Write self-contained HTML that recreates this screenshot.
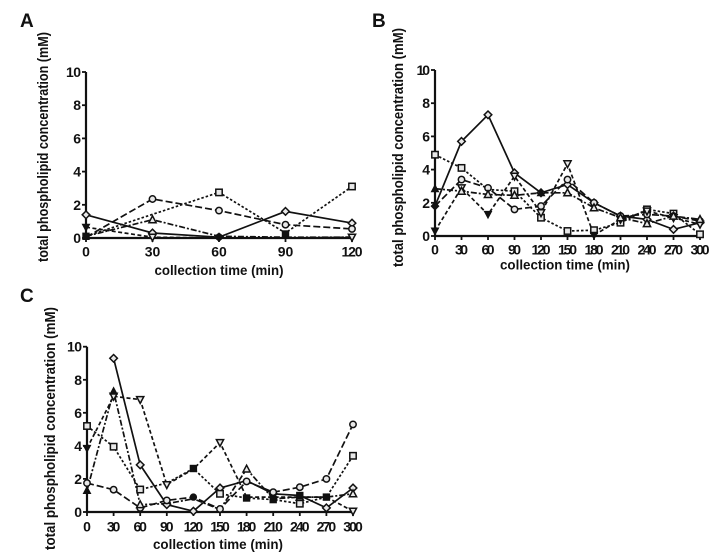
<!DOCTYPE html>
<html><head><meta charset="utf-8"><style>
html,body{margin:0;padding:0;background:#fff;}
svg{display:block;}
text{font-family:"Liberation Sans",Arial,sans-serif;font-weight:bold;fill:#111;}
.ax{stroke:#111;stroke-width:2.2;fill:none;}
.tk{stroke:#111;stroke-width:1.8;}
.s{fill:none;stroke:#111;stroke-width:1.7;}
.mk{fill:#e8e8e8;stroke:#111;stroke-width:1.5;}
.mf{fill:#111;stroke:#111;stroke-width:1;}
.yt{font-size:14px;text-anchor:end;}
.xt{font-size:14px;text-anchor:middle;}
.ttl{font-size:13.5px;text-anchor:middle;}
.yl{font-size:15px;text-anchor:middle;}
.lt{font-size:19px;}
</style></head><body>
<svg width="720" height="560" viewBox="0 0 720 560" xmlns="http://www.w3.org/2000/svg">
<defs>
<path id="dm" d="M0,-3.8 L3.8,0 L0,3.8 L-3.8,0Z"/>
<circle id="ci" r="3.2"/>
<rect id="sq" x="-3.2" y="-3.2" width="6.4" height="6.4"/>
<path id="tu" d="M0,-3.8 L3.6,3 L-3.6,3Z"/>
<path id="td" d="M0,3.8 L3.6,-3 L-3.6,-3Z"/>
</defs>

<!-- ================= PANEL A ================= -->
<text class="lt" x="20" y="27">A</text>
<text class="yl" transform="translate(48,147) rotate(-90)" textLength="230" lengthAdjust="spacingAndGlyphs">total phospholipid concentration (mM)</text>
<path class="ax" d="M86,72 V238 H352"/>
<g class="tk">
<line x1="82" y1="238" x2="86" y2="238"/><line x1="82" y1="204.8" x2="86" y2="204.8"/><line x1="82" y1="171.6" x2="86" y2="171.6"/><line x1="82" y1="138.4" x2="86" y2="138.4"/><line x1="82" y1="105.2" x2="86" y2="105.2"/><line x1="82" y1="72" x2="86" y2="72"/>
<line x1="86" y1="238" x2="86" y2="242"/><line x1="152.5" y1="238" x2="152.5" y2="242"/><line x1="219" y1="238" x2="219" y2="242"/><line x1="285.5" y1="238" x2="285.5" y2="242"/><line x1="352" y1="238" x2="352" y2="242"/>
</g>
<text class="yt" x="81" y="243">0</text><text class="yt" x="81" y="209.8">2</text><text class="yt" x="81" y="176.6">4</text><text class="yt" x="81" y="143.4">6</text><text class="yt" x="81" y="110.2">8</text><text class="yt" x="81" y="77" textLength="15">10</text>
<text class="xt" x="86" y="256.7">0</text><text class="xt" x="152.5" y="256.7">30</text><text class="xt" x="219" y="256.7">60</text><text class="xt" x="285.5" y="256.7">90</text><text class="xt" x="352" y="256.7" textLength="21">120</text>
<text class="ttl" x="219" y="275" textLength="129" lengthAdjust="spacingAndGlyphs">collection time (min)</text>

<polyline class="s" points="86,214.8 152.5,233 219,237.2 285.5,211.4 352,223.1"/>
<polyline class="s" stroke-dasharray="7,3" points="86,237.2 152.5,199 219,210.6 285.5,224.7 352,228.9"/>
<polyline class="s" stroke-dasharray="2.5,2" points="86,236.3 219,192.4 285.5,233 352,186.5"/>
<polyline class="s" stroke-dasharray="6,2,2,2" points="86,236.3 152.5,219.7 219,236.3 285.5,237.2 352,237.2"/>
<polyline class="s" stroke-dasharray="4,2.5" points="86,227.2 152.5,237.2 219,238 285.5,238 352,237.2"/>
<g class="mk">
<use href="#dm" x="86" y="214.8"/><use href="#dm" x="152.5" y="233"/><use href="#dm" x="219" y="237.2"/><use href="#dm" x="285.5" y="211.4"/><use href="#dm" x="352" y="223.1"/>
<use href="#ci" x="152.5" y="199"/><use href="#ci" x="219" y="210.6"/><use href="#ci" x="285.5" y="224.7"/><use href="#ci" x="352" y="228.9"/>
<use href="#sq" x="219" y="192.4"/><use href="#sq" x="352" y="186.5"/>
<use href="#tu" x="152.5" y="219.7"/>
<use href="#td" x="352" y="237.2"/><use href="#td" x="152.5" y="237.2"/>
</g>
<g class="mf">
<use href="#td" x="86" y="227.2"/><use href="#sq" x="86" y="236.3"/><use href="#sq" x="285.5" y="234"/><use href="#ci" x="219" y="237"/>
</g>

<!-- ================= PANEL B ================= -->
<text class="lt" x="372" y="27">B</text>
<text class="yl" transform="translate(403,147.5) rotate(-90)" textLength="239" lengthAdjust="spacingAndGlyphs">total phospholipid concentration (mM)</text>
<path class="ax" d="M435,70 V236 H700"/>
<g class="tk">
<line x1="431" y1="236" x2="435" y2="236"/><line x1="431" y1="202.8" x2="435" y2="202.8"/><line x1="431" y1="169.6" x2="435" y2="169.6"/><line x1="431" y1="136.4" x2="435" y2="136.4"/><line x1="431" y1="103.2" x2="435" y2="103.2"/><line x1="431" y1="70" x2="435" y2="70"/>
<line x1="435" y1="236" x2="435" y2="240"/><line x1="461.5" y1="236" x2="461.5" y2="240"/><line x1="488" y1="236" x2="488" y2="240"/><line x1="514.5" y1="236" x2="514.5" y2="240"/><line x1="541" y1="236" x2="541" y2="240"/><line x1="567.5" y1="236" x2="567.5" y2="240"/><line x1="594" y1="236" x2="594" y2="240"/><line x1="620.5" y1="236" x2="620.5" y2="240"/><line x1="647" y1="236" x2="647" y2="240"/><line x1="673.5" y1="236" x2="673.5" y2="240"/><line x1="700" y1="236" x2="700" y2="240"/>
</g>
<text class="yt" x="430" y="241">0</text><text class="yt" x="430" y="207.8">2</text><text class="yt" x="430" y="174.6">4</text><text class="yt" x="430" y="141.4">6</text><text class="yt" x="430" y="108.2">8</text><text class="yt" x="430" y="75" textLength="13.5">10</text>
<text class="xt" x="435" y="254.5">0</text><text class="xt" x="461.5" y="254.5" textLength="13">30</text><text class="xt" x="488" y="254.5" textLength="13">60</text><text class="xt" x="514.5" y="254.5" textLength="13">90</text><text class="xt" x="541" y="254.5" textLength="19">120</text><text class="xt" x="567.5" y="254.5" textLength="19">150</text><text class="xt" x="594" y="254.5" textLength="19">180</text><text class="xt" x="620.5" y="254.5" textLength="19">210</text><text class="xt" x="647" y="254.5" textLength="19">240</text><text class="xt" x="673.5" y="254.5" textLength="19">270</text><text class="xt" x="700" y="254.5" textLength="19">300</text>
<text class="ttl" x="565" y="269.5" textLength="130" lengthAdjust="spacingAndGlyphs">collection time (min)</text>

<polyline class="s" points="435,206.1 461.5,141.4 488,114.8 514.5,172.9 541,192.8 567.5,184.5 594,202.8 620.5,216.1 647,219.4 673.5,229.4 700,222.7"/>
<polyline class="s" stroke-dasharray="2.5,2" points="435,154.7 461.5,167.9 488,189.5 514.5,191.2 541,217.7 567.5,231 594,230.2 620.5,222.7 647,209.4 673.5,213.6 700,234.3"/>
<polyline class="s" stroke-dasharray="7,3" points="435,206.1 461.5,179.6 488,187.9 514.5,209.4 541,206.1 567.5,179.6 594,202.8 620.5,216.1 647,214.4 673.5,216.1 700,221.1"/>
<polyline class="s" stroke-dasharray="4,2.5" points="435,231 461.5,187.9 488,214.4 514.5,176.2 541,212.8 567.5,163.8 594,235.2 620.5,219.4 647,211.1 673.5,217.7 700,224.4"/>
<polyline class="s" stroke-dasharray="6,2,2,2" points="435,188.7 461.5,191.2 488,194.5 514.5,195.3 541,192.8 567.5,192.8 594,207.8 620.5,217.7 647,223.6 673.5,216.1 700,219.4"/>
<g class="mk">
<use href="#dm" x="461.5" y="141.4"/><use href="#dm" x="488" y="114.8"/><use href="#dm" x="514.5" y="172.9"/><use href="#dm" x="541" y="192.8"/><use href="#dm" x="567.5" y="184.5"/><use href="#dm" x="594" y="202.8"/><use href="#dm" x="620.5" y="216.1"/><use href="#dm" x="647" y="219.4"/><use href="#dm" x="673.5" y="229.4"/><use href="#dm" x="700" y="222.7"/>
<use href="#sq" x="435" y="154.7"/><use href="#sq" x="461.5" y="167.9"/><use href="#sq" x="514.5" y="191.2"/><use href="#sq" x="541" y="217.7"/><use href="#sq" x="567.5" y="231"/><use href="#sq" x="594" y="230.2"/><use href="#sq" x="620.5" y="222.7"/><use href="#sq" x="647" y="209.4"/><use href="#sq" x="673.5" y="213.6"/><use href="#sq" x="700" y="234.3"/>
<use href="#ci" x="461.5" y="179.6"/><use href="#ci" x="488" y="187.9"/><use href="#ci" x="514.5" y="209.4"/><use href="#ci" x="541" y="206.1"/><use href="#ci" x="567.5" y="179.6"/><use href="#ci" x="594" y="202.8"/><use href="#ci" x="620.5" y="216.1"/><use href="#ci" x="647" y="214.4"/><use href="#ci" x="673.5" y="216.1"/><use href="#ci" x="700" y="221.1"/>
<use href="#td" x="461.5" y="187.9"/><use href="#td" x="514.5" y="176.2"/><use href="#td" x="541" y="212.8"/><use href="#td" x="567.5" y="163.8"/><use href="#td" x="620.5" y="219.4"/><use href="#td" x="647" y="211.1"/><use href="#td" x="673.5" y="217.7"/><use href="#td" x="700" y="224.4"/>
<use href="#tu" x="461.5" y="191.2"/><use href="#tu" x="488" y="194.5"/><use href="#tu" x="514.5" y="195.3"/><use href="#tu" x="567.5" y="192.8"/><use href="#tu" x="594" y="207.8"/><use href="#tu" x="620.5" y="217.7"/><use href="#tu" x="647" y="223.6"/><use href="#tu" x="673.5" y="216.1"/><use href="#tu" x="700" y="219.4"/>
</g>
<g class="mf">
<use href="#dm" x="435" y="206.1"/><use href="#tu" x="435" y="188.7"/><use href="#td" x="435" y="231"/><use href="#td" x="488" y="214.4"/><use href="#td" x="594" y="235.2"/><use href="#tu" x="541" y="192.8"/>
</g>

<!-- ================= PANEL C ================= -->
<text class="lt" x="20" y="302">C</text>
<text class="yl" transform="translate(55,428.5) rotate(-90)" textLength="243" lengthAdjust="spacingAndGlyphs">total phospholipid concentration (mM)</text>
<path class="ax" d="M87,346.7 V512 H353"/>
<g class="tk">
<line x1="83" y1="512" x2="87" y2="512"/><line x1="83" y1="478.9" x2="87" y2="478.9"/><line x1="83" y1="445.9" x2="87" y2="445.9"/><line x1="83" y1="412.8" x2="87" y2="412.8"/><line x1="83" y1="379.8" x2="87" y2="379.8"/><line x1="83" y1="346.7" x2="87" y2="346.7"/>
<line x1="87" y1="512" x2="87" y2="516"/><line x1="113.6" y1="512" x2="113.6" y2="516"/><line x1="140.2" y1="512" x2="140.2" y2="516"/><line x1="166.8" y1="512" x2="166.8" y2="516"/><line x1="193.4" y1="512" x2="193.4" y2="516"/><line x1="220" y1="512" x2="220" y2="516"/><line x1="246.6" y1="512" x2="246.6" y2="516"/><line x1="273.2" y1="512" x2="273.2" y2="516"/><line x1="299.8" y1="512" x2="299.8" y2="516"/><line x1="326.4" y1="512" x2="326.4" y2="516"/><line x1="353" y1="512" x2="353" y2="516"/>
</g>
<text class="yt" x="82" y="517">0</text><text class="yt" x="82" y="483.9">2</text><text class="yt" x="82" y="450.9">4</text><text class="yt" x="82" y="417.8">6</text><text class="yt" x="82" y="384.8">8</text><text class="yt" x="82" y="351.7" textLength="15">10</text>
<text class="xt" x="87" y="531.5">0</text><text class="xt" x="113.6" y="531.5" textLength="13.5">30</text><text class="xt" x="140.2" y="531.5" textLength="13.5">60</text><text class="xt" x="166.8" y="531.5" textLength="13.5">90</text><text class="xt" x="193.4" y="531.5" textLength="19.5">120</text><text class="xt" x="220" y="531.5" textLength="19.5">150</text><text class="xt" x="246.6" y="531.5" textLength="19.5">180</text><text class="xt" x="273.2" y="531.5" textLength="19.5">210</text><text class="xt" x="299.8" y="531.5" textLength="19.5">240</text><text class="xt" x="326.4" y="531.5" textLength="19.5">270</text><text class="xt" x="353" y="531.5" textLength="19.5">300</text>
<text class="ttl" x="218" y="549" textLength="130" lengthAdjust="spacingAndGlyphs">collection time (min)</text>

<polyline class="s" points="113.6,358.3 140.2,464.9 166.8,504.6 193.4,511.2 220,488 246.6,480.6 273.2,493.8 299.8,495.5 326.4,507.9 353,488"/>
<polyline class="s" stroke-dasharray="2.5,2" points="87,426 113.6,446.7 140.2,489.5 166.8,483.1 193.4,468.5 220,493.8 246.6,498 273.2,499.6 299.8,503.7 326.4,497.1 353,455.8"/>
<polyline class="s" stroke-dasharray="7,3" points="87,483.1 113.6,489.7 140.2,507.9 166.8,500.4 193.4,497.1 220,509 246.6,481.4 273.2,492.2 299.8,487.2 326.4,478.9 353,424.4"/>
<polyline class="s" stroke-dasharray="4,2.5" points="87,448.4 113.6,396.3 140.2,399.6 166.8,484.7 193.4,469 220,442.6 246.6,497.1 273.2,497.1 299.8,497.1 326.4,497.1 353,511.2"/>
<polyline class="s" stroke-dasharray="6,2,2,2" points="87,490.5 113.6,391.3 140.2,504.6 166.8,503.7 193.4,498.8 220,509.5 246.6,469 273.2,498.8 299.8,497.1 326.4,497.1 353,493.8"/>
<g class="mk">
<use href="#dm" x="113.6" y="358.3"/><use href="#dm" x="140.2" y="464.9"/><use href="#dm" x="166.8" y="504.6"/><use href="#dm" x="193.4" y="511.2"/><use href="#dm" x="220" y="488"/><use href="#dm" x="273.2" y="493.8"/><use href="#dm" x="326.4" y="507.9"/><use href="#dm" x="353" y="488"/>
<use href="#sq" x="87" y="426"/><use href="#sq" x="113.6" y="446.7"/><use href="#sq" x="140.2" y="489.5"/><use href="#sq" x="220" y="493.8"/><use href="#sq" x="299.8" y="503.7"/><use href="#sq" x="353" y="455.8"/>
<use href="#ci" x="87" y="483.1"/><use href="#ci" x="113.6" y="489.7"/><use href="#ci" x="140.2" y="507.9"/><use href="#ci" x="166.8" y="500.4"/><use href="#ci" x="220" y="509"/><use href="#ci" x="246.6" y="481.4"/><use href="#ci" x="273.2" y="492.2"/><use href="#ci" x="299.8" y="487.2"/><use href="#ci" x="326.4" y="478.9"/><use href="#ci" x="353" y="424.4"/>
<use href="#td" x="113.6" y="396.3"/><use href="#td" x="140.2" y="399.6"/><use href="#td" x="166.8" y="484.7"/><use href="#td" x="220" y="442.6"/><use href="#td" x="353" y="511.2"/>
<use href="#tu" x="140.2" y="504.6"/><use href="#tu" x="246.6" y="469"/><use href="#tu" x="299.8" y="497.1"/><use href="#tu" x="353" y="493.8"/>
</g>
<g class="mf">
<use href="#td" x="87" y="448.4"/><use href="#tu" x="87" y="490.5"/><use href="#tu" x="113.6" y="391.3"/><use href="#sq" x="193.4" y="468.5"/><use href="#sq" x="246.6" y="498"/><use href="#sq" x="273.2" y="499.6"/><use href="#sq" x="299.8" y="495.5"/><use href="#sq" x="326.4" y="497.1"/><use href="#ci" x="193.4" y="497.1"/>
</g>
</svg>
</body></html>
